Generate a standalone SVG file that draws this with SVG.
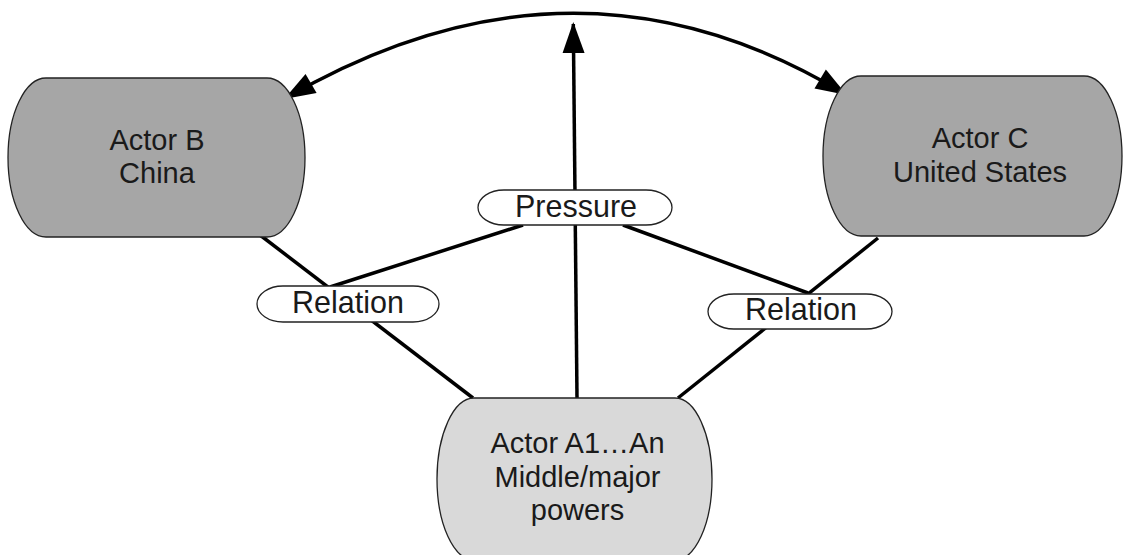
<svg xmlns="http://www.w3.org/2000/svg" width="1127" height="555" viewBox="0 0 1127 555">
  <style>
    .conn { fill: none; stroke: #000; stroke-width: 3.5; stroke-linecap: butt; }
    .node { stroke: #222; stroke-width: 1.3; }
    .dark { fill: #a6a6a6; }
    .light { fill: #d9d9d9; }
    .lbl { fill: #fff; stroke: #222; stroke-width: 1.3; }
    text { font-family: "Liberation Sans", Arial, Helvetica, sans-serif; fill: #1a1a1a; text-anchor: middle; }
    .nt { font-size: 29px; }
    .lt { font-size: 30.5px; }
  </style>
  <defs>
    <marker id="arrow" markerUnits="userSpaceOnUse" markerWidth="34" markerHeight="26" refX="29" refY="11" orient="auto-start-reverse" overflow="visible">
      <path d="M0,0 L31,11 L0,22 Z" fill="#000"/>
    </marker>
  </defs>
  <rect width="1127" height="555" fill="#fff"/>

  <g id="connectors">
    <path class="conn" d="M286,98 Q574.5,-69.5 845,94" marker-start="url(#arrow)" marker-end="url(#arrow)"/>
    <path class="conn" d="M577,398 L573.3,24" marker-end="url(#arrow)"/>
    <line class="conn" x1="260" y1="235" x2="473" y2="398"/>
    <line class="conn" x1="330" y1="287" x2="523" y2="225"/>
    <line class="conn" x1="878" y1="238" x2="678" y2="398"/>
    <line class="conn" x1="623" y1="225" x2="808" y2="293"/>
  </g>

  <g id="actor-b">
    <rect class="node dark" x="8" y="78" width="297" height="159" rx="38" ry="79.5"/>
    <text class="nt" x="157" y="150">Actor B</text>
    <text class="nt" x="157" y="183">China</text>
  </g>

  <g id="actor-c">
    <rect class="node dark" x="823" y="76" width="299" height="160" rx="38" ry="80"/>
    <text class="nt" x="980" y="148">Actor C</text>
    <text class="nt" x="980" y="182">United States</text>
  </g>

  <g id="actor-a">
    <rect class="node light" x="437" y="398" width="275" height="162" rx="37" ry="81"/>
    <text class="nt" x="577.5" y="453">Actor A1…An</text>
    <text class="nt" x="577.5" y="487">Middle/major</text>
    <text class="nt" x="577.5" y="520">powers</text>
  </g>

  <g id="label-pressure">
    <rect class="lbl" x="478" y="190" width="194" height="35" rx="26" ry="17.5"/>
    <text class="lt" x="576" y="217">Pressure</text>
  </g>

  <g id="label-relation-left">
    <rect class="lbl" x="257" y="286" width="182" height="36" rx="26" ry="18"/>
    <text class="lt" x="348" y="313">Relation</text>
  </g>

  <g id="label-relation-right">
    <rect class="lbl" x="708" y="294" width="184" height="35" rx="26" ry="17.5"/>
    <text class="lt" x="801" y="320">Relation</text>
  </g>
</svg>
